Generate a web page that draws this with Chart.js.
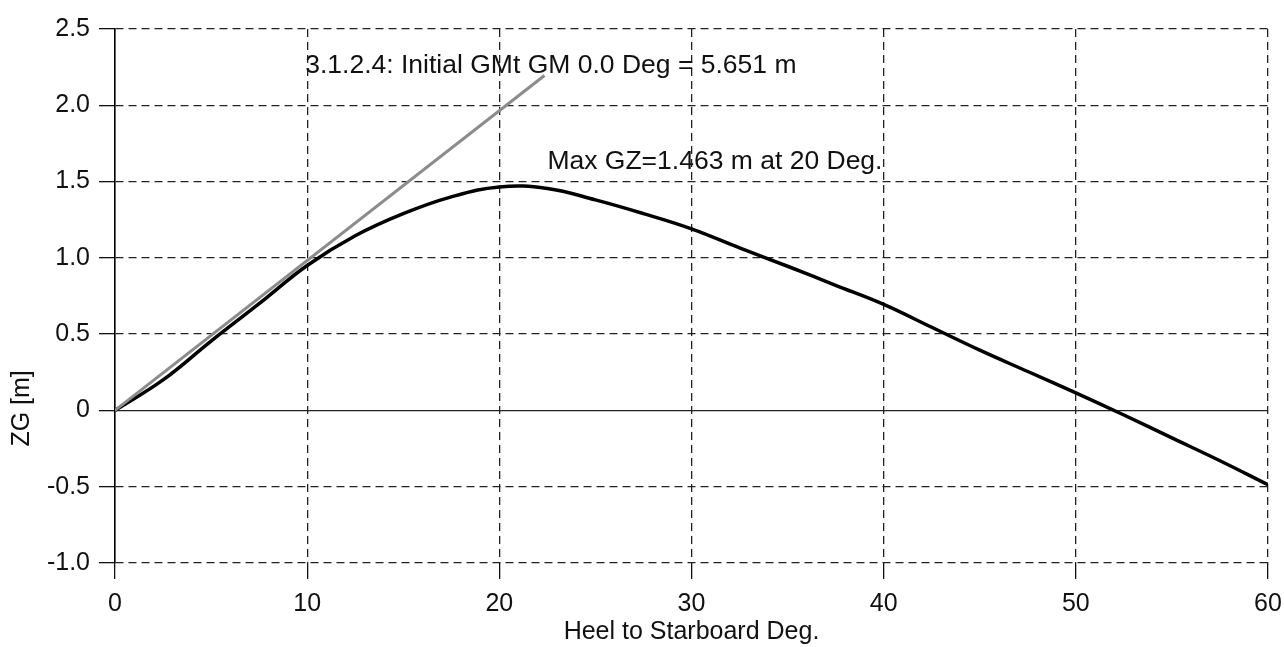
<!DOCTYPE html>
<html>
<head>
<meta charset="utf-8">
<script src="https://cdn.jsdelivr.net/npm/chart.js@4.4.1/dist/chart.umd.min.js"></script>
<style>
  html, body { margin: 0; padding: 0; background: #fff; }
</style>
</head>
<body>
<canvas id="graph" width="1284" height="647"></canvas>
<script>
// GZ curve
const heelDeg = [0, 2.5, 5, 7.5, 10, 12.5, 15, 17.5, 20, 22.5, 25, 27.5, 30,
  32.5, 35, 37.5, 40, 42.5, 45, 47.5, 50, 52.5, 55, 57.5, 60];
const gzValues = [0, 0.2, 0.455, 0.7, 0.95, 1.145, 1.29, 1.4, 1.465, 1.455, 1.38, 1.29, 1.19,
  1.065, 0.945, 0.82, 0.695, 0.545, 0.395, 0.255, 0.115, -0.03, -0.18, -0.33, -0.487];

// initial GM tangent line
const gmHeel = [0, 22.35];
const gmValues = [0, 2.195];

const xTicks = [0, 10, 20, 30, 40, 50, 60];
const yTicks = [-1.0, -0.5, 0, 0.5, 1.0, 1.5, 2.0, 2.5];

const gmLabel = '3.1.2.4: Initial GMt GM 0.0 Deg = 5.651 m';
const maxLabel = 'Max GZ=1.463 m at 20 Deg.';
const xTitle = 'Heel to Starboard Deg.';
const yTitle = 'ZG [m]';

const FONT = '"Liberation Sans", Arial, sans-serif';

const toPoints = (xs, ys) => xs.map((x, i) => ({x: x, y: ys[i]}));

// text labels placed in data space
const notes = [
  {text: gmLabel, x: 9.9, y: 2.26},
  {text: maxLabel, x: 22.5, y: 1.63}
];

const labelPlugin = {
  id: 'labels',
  afterDatasetsDraw(chart) {
    const ctx = chart.ctx;
    const xs = chart.scales.x, ys = chart.scales.y;
    ctx.save();
    ctx.fillStyle = '#111';
    ctx.font = '26.5px ' + FONT;
    ctx.textBaseline = 'middle';
    ctx.textAlign = 'left';
    notes.forEach(n => {
      ctx.fillText(n.text, xs.getPixelForValue(n.x), ys.getPixelForValue(n.y));
    });
    // y axis title
    ctx.font = '25px ' + FONT;
    ctx.translate(22, ys.getPixelForValue(0) - 2);
    ctx.rotate(-Math.PI / 2);
    ctx.textAlign = 'center';
    ctx.fillText(yTitle, 0, 0);
    ctx.restore();
  }
};

const dashFor = zero => (c) => (c.tick && c.tick.value === zero) ? [] : [8, 5];

new Chart(document.getElementById('graph'), {
  type: 'line',
  data: {
    datasets: [
      {
        label: 'GM',
        data: toPoints(gmHeel, gmValues),
        borderColor: '#8c8c8c',
        borderWidth: 3,
        pointRadius: 0,
        fill: false
      },
      {
        label: 'GZ',
        data: toPoints(heelDeg, gzValues),
        borderColor: '#000',
        borderWidth: 3.5,
        pointRadius: 0,
        tension: 0.4,
        fill: false
      }
    ]
  },
  options: {
    responsive: false,
    animation: false,
    events: [],
    layout: { padding: { top: 29, right: 16, left: 0, bottom: 0 } },
    plugins: { legend: { display: false }, tooltip: { enabled: false } },
    scales: {
      x: {
        type: 'linear',
        min: 0, max: 60,
        afterBuildTicks: s => { s.ticks = xTicks.map(v => ({value: v})); },
        afterFit: s => { s.height = 84; s.paddingLeft = 0; s.paddingRight = 0; },
        grid: { color: '#222', lineWidth: 1.3, tickLength: 16, tickColor: '#111', tickWidth: 1.3 },
        border: { display: false, dash: dashFor(0) },
        ticks: { color: '#111', padding: 10, font: { family: FONT, size: 25 }, maxRotation: 0 },
        title: { display: true, text: xTitle, color: '#111', padding: { top: 0, bottom: 0 }, font: { family: FONT, size: 25 } }
      },
      y: {
        min: -1, max: 2.5,
        afterBuildTicks: s => { s.ticks = yTicks.map(v => ({value: v})); },
        afterFit: s => { s.width = 115; s.paddingTop = 0; s.paddingBottom = 0; },
        grid: { color: '#222', lineWidth: 1.3, tickLength: 16, tickColor: '#111', tickWidth: 1.3 },
        border: { display: true, color: '#000', width: 1.5, dash: dashFor(0) },
        ticks: {
          color: '#111', padding: 9, font: { family: FONT, size: 25 },
          callback: v => v === 0 ? '0' : v.toFixed(1)
        }
      }
    }
  },
  plugins: [labelPlugin]
});
</script>
</body>
</html>
